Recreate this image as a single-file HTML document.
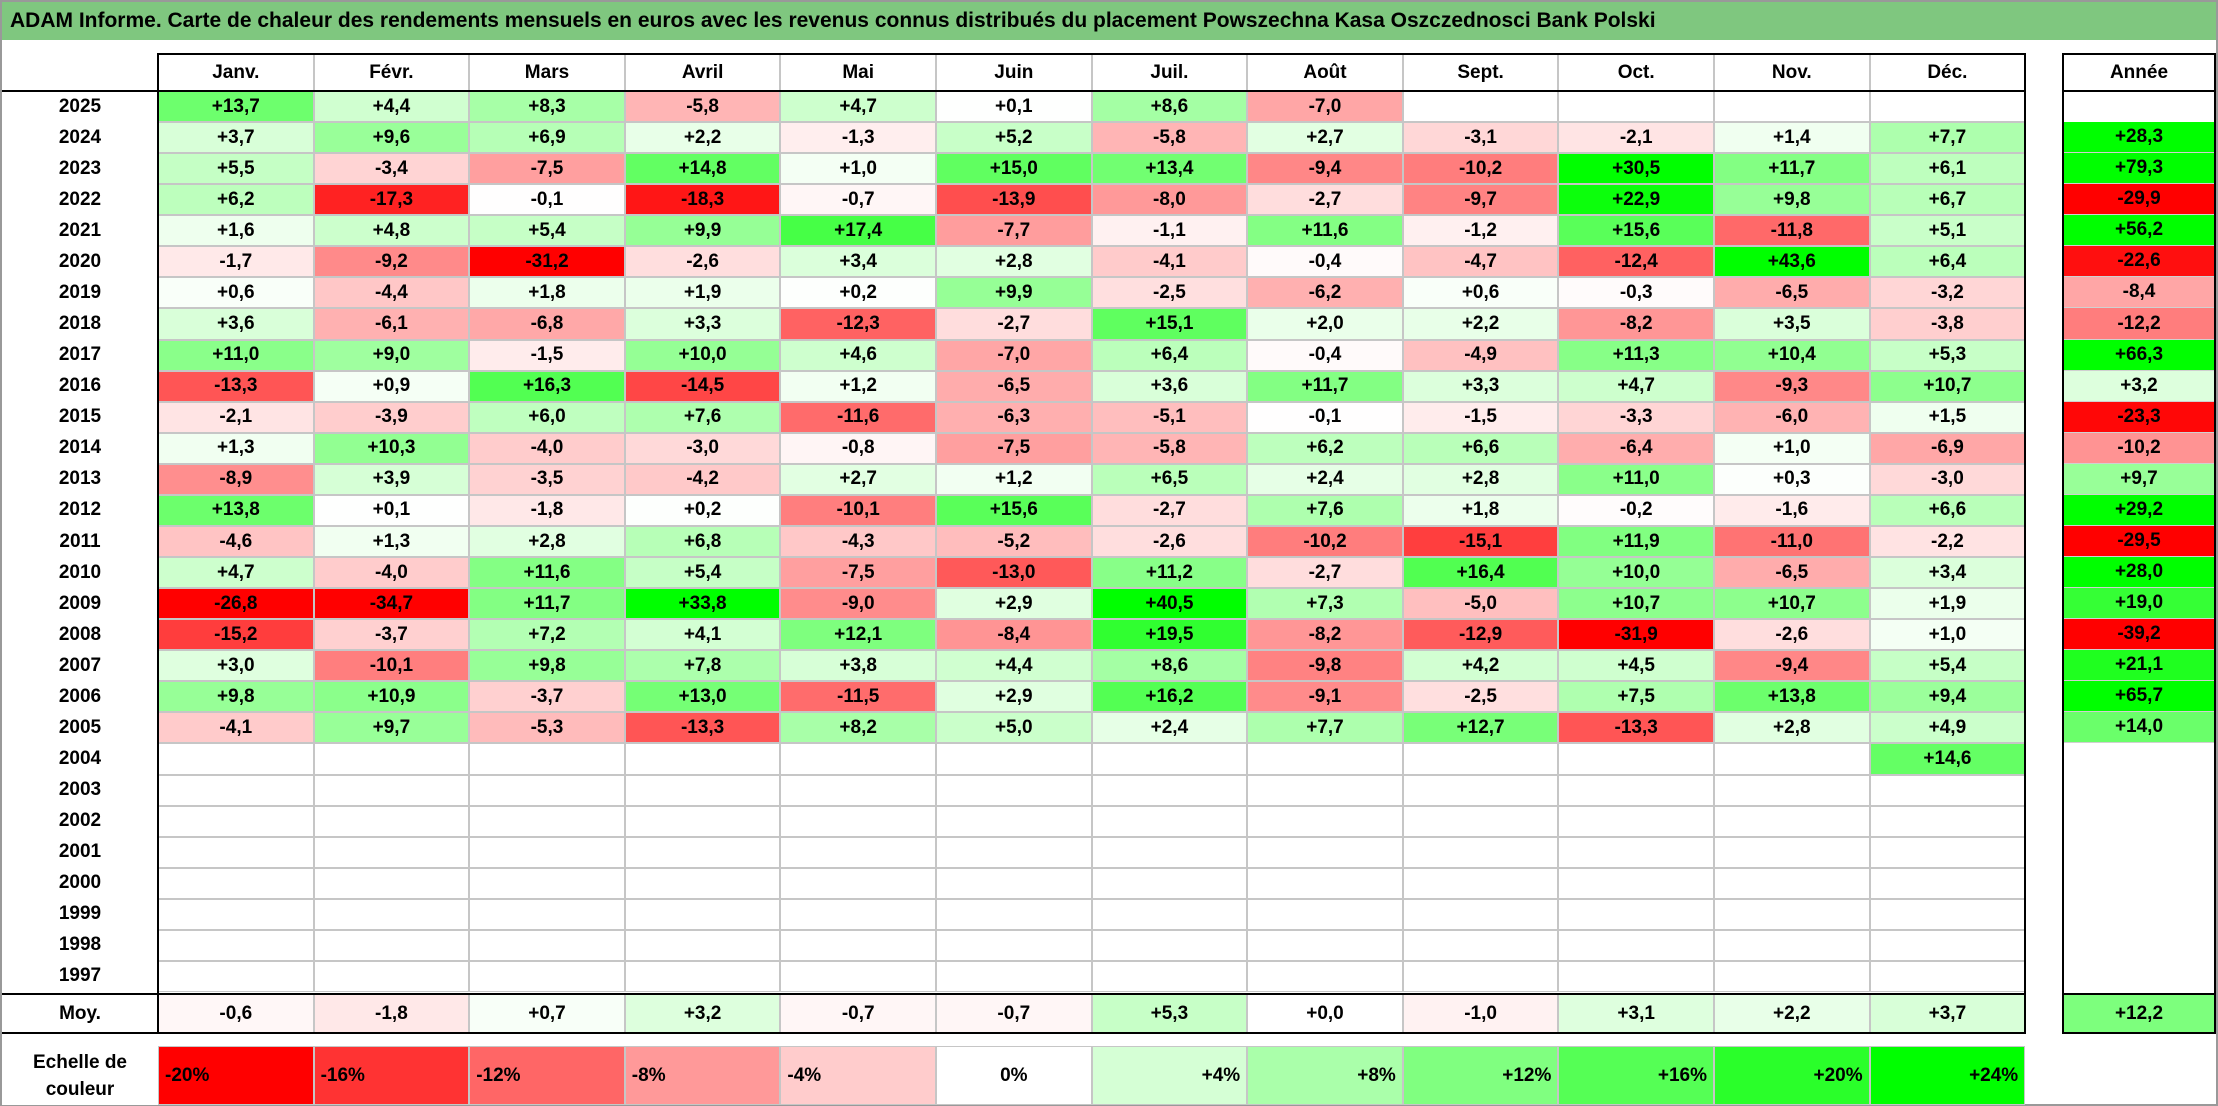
<!DOCTYPE html>
<html><head><meta charset="utf-8">
<style>
body{margin:0;width:2218px;height:1106px;overflow:hidden;background:#fff;font-family:"Liberation Sans",sans-serif;}
#root{position:absolute;left:0;top:0;width:2214px;height:1102px;border:2px solid #999;}
.c{position:absolute;box-sizing:border-box;display:flex;align-items:center;justify-content:center;font-weight:bold;font-size:19px;color:#000;}
.title{position:absolute;left:0;top:0;width:2214px;height:38px;background:#7fc77f;font-weight:bold;font-size:21px;line-height:38px;padding-left:8px;box-sizing:border-box;}
.ln{position:absolute;background:#000;}
</style></head><body>
<div id="root">
<div class="title">ADAM Informe. Carte de chaleur des rendements mensuels en euros avec les revenus connus distribués du placement Powszechna Kasa Oszczednosci Bank Polski</div>
</div>
<script>
const months=["Janv.","Févr.","Mars","Avril","Mai","Juin","Juil.","Août","Sept.","Oct.","Nov.","Déc."];
const years=[2025,2024,2023,2022,2021,2020,2019,2018,2017,2016,2015,2014,2013,2012,2011,2010,2009,2008,2007,2006,2005,2004,2003,2002,2001,2000,1999,1998,1997];
const N=null;
const monthly=[
[13.7,4.4,8.3,-5.8,4.7,0.1,8.6,-7.0,N,N,N,N],
[3.7,9.6,6.9,2.2,-1.3,5.2,-5.8,2.7,-3.1,-2.1,1.4,7.7],
[5.5,-3.4,-7.5,14.8,1.0,15.0,13.4,-9.4,-10.2,30.5,11.7,6.1],
[6.2,-17.3,-0.1,-18.3,-0.7,-13.9,-8.0,-2.7,-9.7,22.9,9.8,6.7],
[1.6,4.8,5.4,9.9,17.4,-7.7,-1.1,11.6,-1.2,15.6,-11.8,5.1],
[-1.7,-9.2,-31.2,-2.6,3.4,2.8,-4.1,-0.4,-4.7,-12.4,43.6,6.4],
[0.6,-4.4,1.8,1.9,0.2,9.9,-2.5,-6.2,0.6,-0.3,-6.5,-3.2],
[3.6,-6.1,-6.8,3.3,-12.3,-2.7,15.1,2.0,2.2,-8.2,3.5,-3.8],
[11.0,9.0,-1.5,10.0,4.6,-7.0,6.4,-0.4,-4.9,11.3,10.4,5.3],
[-13.3,0.9,16.3,-14.5,1.2,-6.5,3.6,11.7,3.3,4.7,-9.3,10.7],
[-2.1,-3.9,6.0,7.6,-11.6,-6.3,-5.1,-0.1,-1.5,-3.3,-6.0,1.5],
[1.3,10.3,-4.0,-3.0,-0.8,-7.5,-5.8,6.2,6.6,-6.4,1.0,-6.9],
[-8.9,3.9,-3.5,-4.2,2.7,1.2,6.5,2.4,2.8,11.0,0.3,-3.0],
[13.8,0.1,-1.8,0.2,-10.1,15.6,-2.7,7.6,1.8,-0.2,-1.6,6.6],
[-4.6,1.3,2.8,6.8,-4.3,-5.2,-2.6,-10.2,-15.1,11.9,-11.0,-2.2],
[4.7,-4.0,11.6,5.4,-7.5,-13.0,11.2,-2.7,16.4,10.0,-6.5,3.4],
[-26.8,-34.7,11.7,33.8,-9.0,2.9,40.5,7.3,-5.0,10.7,10.7,1.9],
[-15.2,-3.7,7.2,4.1,12.1,-8.4,19.5,-8.2,-12.9,-31.9,-2.6,1.0],
[3.0,-10.1,9.8,7.8,3.8,4.4,8.6,-9.8,4.2,4.5,-9.4,5.4],
[9.8,10.9,-3.7,13.0,-11.5,2.9,16.2,-9.1,-2.5,7.5,13.8,9.4],
[-4.1,9.7,-5.3,-13.3,8.2,5.0,2.4,7.7,12.7,-13.3,2.8,4.9],
[N,N,N,N,N,N,N,N,N,N,N,14.6],
[N,N,N,N,N,N,N,N,N,N,N,N],[N,N,N,N,N,N,N,N,N,N,N,N],[N,N,N,N,N,N,N,N,N,N,N,N],
[N,N,N,N,N,N,N,N,N,N,N,N],[N,N,N,N,N,N,N,N,N,N,N,N],[N,N,N,N,N,N,N,N,N,N,N,N],[N,N,N,N,N,N,N,N,N,N,N,N]];
const annual=[N,28.3,79.3,-29.9,56.2,-22.6,-8.4,-12.2,66.3,3.2,-23.3,-10.2,9.7,29.2,-29.5,28.0,19.0,-39.2,21.1,65.7,14.0,N,N,N,N,N,N,N,N];
const avgMonthly=[-0.6,-1.8,0.7,3.2,-0.7,-0.7,5.3,0.0,-1.0,3.1,2.2,3.7];
const avgAnnual=12.2;
const scaleVals=[-20,-16,-12,-8,-4,0,4,8,12,16,20,24];
const scaleLabels=["-20%","-16%","-12%","-8%","-4%","0%","+4%","+8%","+12%","+16%","+20%","+24%"];

const root=document.getElementById('root');
const X0=156,CW=155.6,Y0=52,HB=89,RH=31.07,YX=2061,YW=152;
const MOYT=992,MOYB=1031,ST=1044,SB=1103;
function colX(i){return X0+i*CW;}
function rowY(i){return HB+i*RH;}
function col(v,neg,pos){
  if(v==null)return '#fff';
  let t;
  if(v<0){t=Math.min(1,-v/neg);const g=Math.round(255*(1-t));return `rgb(255,${g},${g})`;}
  t=Math.min(1,v/pos);const g=Math.round(255*(1-t));return `rgb(${g},255,${g})`;
}
function fmt(v){if(v==null)return '';const s=Math.abs(v).toFixed(1).replace('.',',');return (v<0?'-':'+')+s;}
function cell(x,y,w,h,txt,bg,grid){
  const d=document.createElement('div');d.className='c';
  d.style.left=x+'px';d.style.top=y+'px';d.style.width=w+'px';d.style.height=h+'px';
  d.style.background=bg||'#fff';
  if(grid){d.style.border='1px solid #c6c6c6';}
  d.textContent=txt;root.appendChild(d);return d;
}
function line(x,y,w,h){const d=document.createElement('div');d.className='ln';d.style.left=x+'px';d.style.top=y+'px';d.style.width=w+'px';d.style.height=h+'px';


root.appendChild(d);}

months.forEach((m,i)=>{
  const d=cell(colX(i),Y0,CW,HB-Y0,m,'#fff',true);
  
  
});
const ah=cell(YX,Y0,YW,HB-Y0,'Année','#fff',false);



years.forEach((yr,r)=>{
  const y=rowY(r);
  const l=cell(0,y,X0,RH,String(yr),'#fff',false);
  
  
  monthly[r].forEach((v,i)=>{
    const d=cell(colX(i),y,CW,RH,fmt(v),col(v,20,24),true);
    
    
  });
  const a=cell(YX,y,YW,RH,fmt(annual[r]),col(annual[r],24,24),false);
  a.style.borderBottom='1px solid '+(annual[r]==null?'#fff':'#d0d0d0');
  
  
});
const ml=cell(0,MOYT,X0,MOYB-MOYT,'Moy.','#fff',false);


avgMonthly.forEach((v,i)=>{
  const d=cell(colX(i),MOYT,CW,MOYB-MOYT,fmt(v),col(v,20,24),true);
  
  
});
const aa=cell(YX,MOYT,YW,MOYB-MOYT,fmt(avgAnnual),col(avgAnnual,24,24),false);



const sl=cell(0,ST,X0,SB-ST,'','#fff',false);
sl.innerHTML='Echelle de<br>couleur';sl.style.textAlign='center';sl.style.lineHeight='27px';


scaleVals.forEach((v,i)=>{
  const d=cell(colX(i),ST,CW,SB-ST,scaleLabels[i],col(v,20,24),true);
  d.style.justifyContent=v<0?'flex-start':(v>0?'flex-end':'center');
  d.style.padding='0 6px';
  
  
});

// borders
line(X0-1,Y0-1,colX(12)-X0+2,2);
line(X0-1,Y0,2,MOYB-Y0);
line(colX(12)-1,Y0,2,MOYB-Y0);
line(0,HB-1,colX(12)+1,2);
line(0,MOYT-1,colX(12)+1,2);
line(0,MOYB-1,colX(12)+1,2);
line(YX-1,Y0-1,YW+2,2);
line(YX-1,Y0,2,MOYB-Y0);
line(YX+YW-1,Y0,2,MOYB-Y0);
line(YX,HB-1,YW,2);
line(YX,MOYT-1,YW,2);
line(YX-1,MOYB-1,YW+2,2);
</script>
</body></html>
